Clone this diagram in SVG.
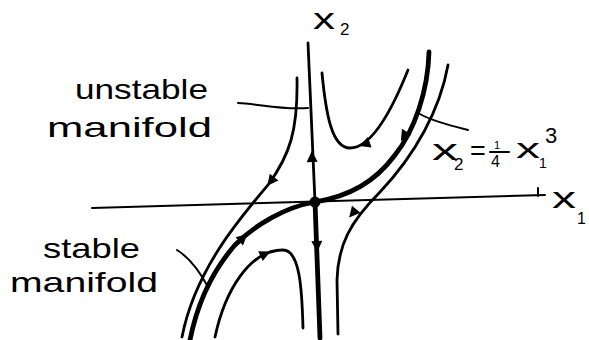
<svg xmlns="http://www.w3.org/2000/svg" xmlns:xlink="http://www.w3.org/1999/xlink" width="589" height="340" viewBox="0 0 589 340">
<style>
.ln{fill:none;stroke:#000;stroke-linecap:round;stroke-linejoin:round}
.thin{stroke-width:2}
.trj{stroke-width:2.8}
.thk{stroke-width:4.8}
.lbl{font-family:"Liberation Sans",Arial,sans-serif;fill:#000}
.ah{fill:#000}
</style>
<defs>
<path id="ah" d="M6,0 L-5,-5.5 L-5,5.5 Z"/>
</defs>
<rect width="589" height="340" fill="#fff"/>
<g id="axes">
<path class="ln thin" d="M92,208 L545,195"/>
<path class="ln thin" d="M538,188 L538,196"/>
<path class="ln trj" d="M308,43 L315,202"/>
<path class="ln thk" d="M315,202 L320,338"/>
<circle cx="315" cy="202" r="5.5" fill="#000"/>
</g>
<g id="trajectories">
<path id="stable-curve" class="ln thk" d="M429,52 C428,90 415,130 395,155 C375,182 350,196 315,202 C285,207 255,225 235,245 C215,268 198,300 190,340"/>
<path id="right-curve" class="ln trj" d="M448,65 C440,110 415,155 380,192 C350,222 338,245 337,280 L338,334"/>
<path id="u-curve" class="ln trj" d="M322,73 C326,115 332,148 350,148 C372,148 392,110 408,70"/>
<path id="left-curve" class="ln trj" d="M297,78 C298,130 290,155 268,185 C240,218 195,270 182,337"/>
<path id="n-curve" class="ln trj" d="M215,337 C225,290 250,250 283,250 C300,250 302,290 303,328"/>
</g>
<g id="arrowheads">
<use xlink:href="#ah" class="ah" transform="translate(312,157) rotate(-92)"/>
<use xlink:href="#ah" class="ah" transform="translate(317,246) rotate(88)"/>
<use xlink:href="#ah" class="ah" transform="translate(404,136) rotate(122)"/>
<use xlink:href="#ah" class="ah" transform="translate(365,144) rotate(160)"/>
<use xlink:href="#ah" class="ah" transform="translate(353,213) rotate(130)"/>
<use xlink:href="#ah" class="ah" transform="translate(271,181) rotate(128)"/>
<use xlink:href="#ah" class="ah" transform="translate(243,238) rotate(-42)"/>
<use xlink:href="#ah" class="ah" transform="translate(265,254) rotate(-25)"/>
</g>
<g id="connectors">
<path class="ln thin" d="M238,103 C260,104 280,110 308,108"/>
<path class="ln thin" d="M418,113 C430,120 445,124 468,130"/>
<path class="ln thin" d="M177,250 C190,258 200,272 208,287"/>
</g>
<g id="label-unstable">
<text class="lbl" x="75" y="99" font-size="28" textLength="133" lengthAdjust="spacingAndGlyphs">unstable</text>
<text class="lbl" x="47" y="137" font-size="28" textLength="165" lengthAdjust="spacingAndGlyphs">manifold</text>
</g>
<g id="label-stable">
<text class="lbl" x="43" y="258" font-size="28" textLength="97" lengthAdjust="spacingAndGlyphs">stable</text>
<text class="lbl" x="10" y="292" font-size="28" textLength="148" lengthAdjust="spacingAndGlyphs">manifold</text>
</g>
<g id="label-x2">
<text class="lbl" x="313" y="29" font-size="30" textLength="22" lengthAdjust="spacingAndGlyphs">x</text>
<text class="lbl" x="340" y="35" font-size="17">2</text>
</g>
<g id="label-x1">
<text class="lbl" x="552" y="208" font-size="30" textLength="24" lengthAdjust="spacingAndGlyphs">x</text>
<text class="lbl" x="577" y="224" font-size="16">1</text>
</g>
<g id="label-eq">
<text class="lbl" x="432" y="160" font-size="30" textLength="26" lengthAdjust="spacingAndGlyphs">x</text>
<text class="lbl" x="454" y="170" font-size="17">2</text>
<text class="lbl" x="470" y="160" font-size="27">=</text>
<text class="lbl" x="494" y="149" font-size="11">1</text>
<path class="ln thin" d="M490,152 L509,152"/>
<text class="lbl" x="491" y="167" font-size="16">4</text>
<text class="lbl" x="516" y="158" font-size="28" textLength="24" lengthAdjust="spacingAndGlyphs">x</text>
<text class="lbl" x="539" y="168" font-size="14">1</text>
<text class="lbl" x="545" y="143" font-size="22">3</text>
</g>
</svg>
